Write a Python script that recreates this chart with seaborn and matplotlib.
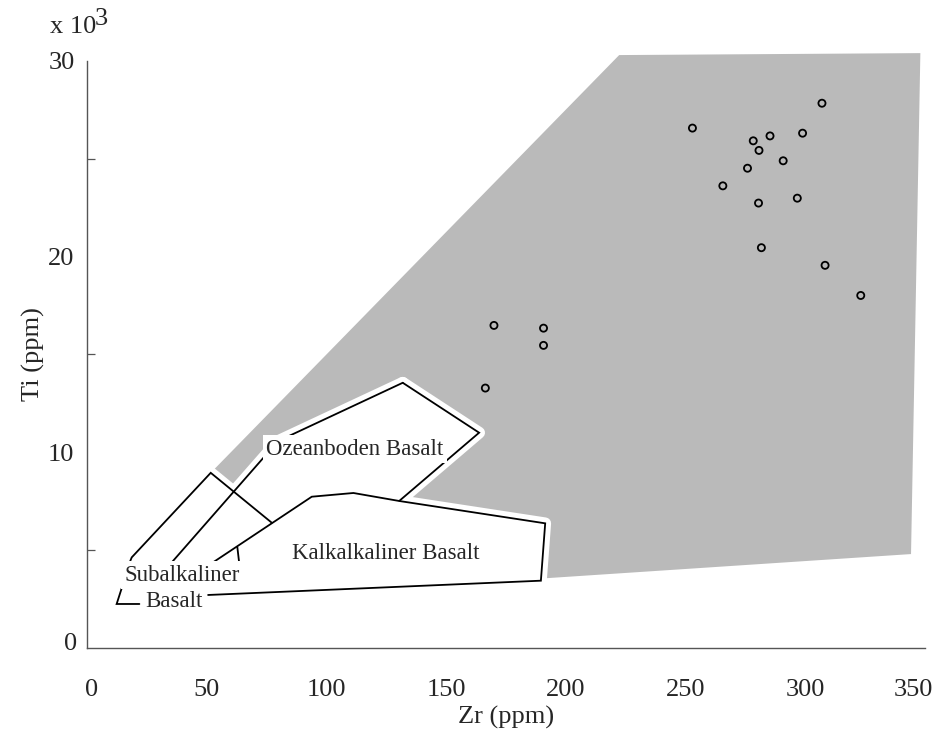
import matplotlib
matplotlib.use("Agg")
import matplotlib.pyplot as plt
import matplotlib.transforms as mtransforms
import seaborn as sns
import pandas as pd
from matplotlib.patches import Polygon

sns.set_theme(style="white")
plt.rcParams['font.family'] = ['Liberation Serif', 'DejaVu Serif']

# sample analyses: Zr in ppm, Ti in ppm x 10^3
zr = [307.0, 252.9, 285.3, 298.9, 278.3, 280.7, 290.8, 275.9, 265.6,
      280.5, 296.7, 281.7, 308.3, 323.2, 170.0, 190.7, 190.7, 166.4]
ti = [27.83, 26.56, 26.16, 26.30, 25.91, 25.42, 24.89, 24.51, 23.61,
      22.73, 22.98, 20.45, 19.55, 18.01, 16.48, 16.34, 15.46, 13.28]

# shaded within-plate field
wp_zr = [222.3, 348.1, 344.2, 189.7, 191.4, 130.5, 163.8, 131.9, 79.8, 61.1, 51.7]
wp_ti = [30.29, 30.39, 4.80, 3.55, 6.37, 7.51, 11.00, 13.55, 10.57, 7.98, 8.95]

# field boundaries
ozean_left_zr = [131.9, 79.8, 35.1]
ozean_left_ti = [13.55, 10.57, 4.33]
ozean_right_zr = [131.9, 163.8, 130.5]
ozean_right_ti = [13.55, 11.00, 7.52]
kalk_zr = [52.1, 93.9, 111.3, 130.5, 191.4, 189.6, 50.6]
kalk_ti = [4.33, 7.73, 7.92, 7.51, 6.37, 3.44, 2.71]
subalk_zr = [17.7, 18.7, 51.7, 77.2]
subalk_ti = [4.33, 4.63, 8.95, 6.40]
kalk_tick_zr = [62.8, 63.6]
kalk_tick_ti = [5.17, 4.33]
basalt_tick_zr = [14.5, 12.4, 21.9]
basalt_tick_ti = [3.05, 2.25, 2.25]

boundaries = [
    (ozean_left_zr, ozean_left_ti),
    (ozean_right_zr, ozean_right_ti),
    (kalk_zr, kalk_ti),
    (subalk_zr, subalk_ti),
    (kalk_tick_zr, kalk_tick_ti),
    (basalt_tick_zr, basalt_tick_ti),
]

field_labels = ["Ozeanboden Basalt", "Kalkalkaliner Basalt", "Subalkaliner", "Basalt"]
label_zr = [111.8, 124.9, 39.9, 36.4]
label_ti = [10.16, 4.85, 3.73, 2.36]

x_ticks = [0, 50, 100, 150, 200, 250, 300, 350]
y_ticks = [0, 10, 20, 30]
y_minor = [5, 15, 25]

fig = plt.figure(figsize=(9.37, 7.31), dpi=100)
ax = fig.add_axes([0.0928, 0.1135, 0.8943, 0.8034])

ax.add_patch(Polygon(list(zip(wp_zr, wp_ti)), closed=True, facecolor="#bababa",
                     edgecolor="none", zorder=1, clip_on=False))

for bx, by in boundaries:
    ax.plot(bx, by, color="white", lw=8.5, solid_joinstyle="round",
            solid_capstyle="round", zorder=2)
for bx, by in boundaries:
    ax.plot(bx, by, color="black", lw=1.3, solid_joinstyle="miter", zorder=3)

for name, lx, ly in zip(field_labels, label_zr, label_ti):
    ax.text(lx, ly, name, ha="center", va="center", fontsize=16.5, zorder=4,
            bbox=dict(facecolor="white", edgecolor="none", pad=2.5))

df = pd.DataFrame({"Zr": zr, "Ti": ti})
sns.scatterplot(data=df, x="Zr", y="Ti", ax=ax, marker="o", s=26,
                facecolor="none", edgecolor="black", linewidth=1.3, zorder=5)

ax.set_xlim(0, 350)
ax.set_ylim(0, 30)
ax.set_xticks(x_ticks)
ax.set_yticks(y_ticks)
ax.set_yticks(y_minor, minor=True)
ax.set_xticklabels([str(v) for v in x_ticks])
ax.set_yticklabels([str(v) for v in y_ticks])

for side in ["top", "right"]:
    ax.spines[side].set_visible(False)
for side in ["left", "bottom"]:
    ax.spines[side].set_color("#555555")
    ax.spines[side].set_linewidth(1.0)

ax.tick_params(axis="x", which="major", direction="in", length=10, width=0.9,
               color="#555555", labelsize=19, pad=22)
ax.tick_params(axis="y", which="major", direction="in", length=11.5, width=0.9,
               color="#555555", labelsize=19, pad=9)
ax.tick_params(axis="y", which="minor", direction="in", length=6, width=0.9,
               color="#555555", left=True)

ax.set_xlabel("Zr (ppm)", fontsize=19, labelpad=4)
ax.set_ylabel("Ti (ppm)", fontsize=19, labelpad=2)

# keep the outermost tick labels inside the canvas / clear of the corner
xlabels = ax.get_xticklabels()
xlabels[-1].set_transform(xlabels[-1].get_transform()
                          + mtransforms.ScaledTranslation(-12 / 100, 0, fig.dpi_scale_trans))
xlabels[0].set_transform(xlabels[0].get_transform()
                         + mtransforms.ScaledTranslation(5 / 100, 0, fig.dpi_scale_trans))
ylabels = ax.get_yticklabels()
ylabels[0].set_transform(ylabels[0].get_transform()
                         + mtransforms.ScaledTranslation(3 / 100, 7 / 100, fig.dpi_scale_trans))

fig.text(50 / 937, 1 - 33 / 731, "x 10", fontsize=19, ha="left", va="baseline")
fig.text(95 / 937, 1 - 25 / 731, "3", fontsize=19, ha="left", va="baseline")

fig.savefig("out.png", dpi=100)
